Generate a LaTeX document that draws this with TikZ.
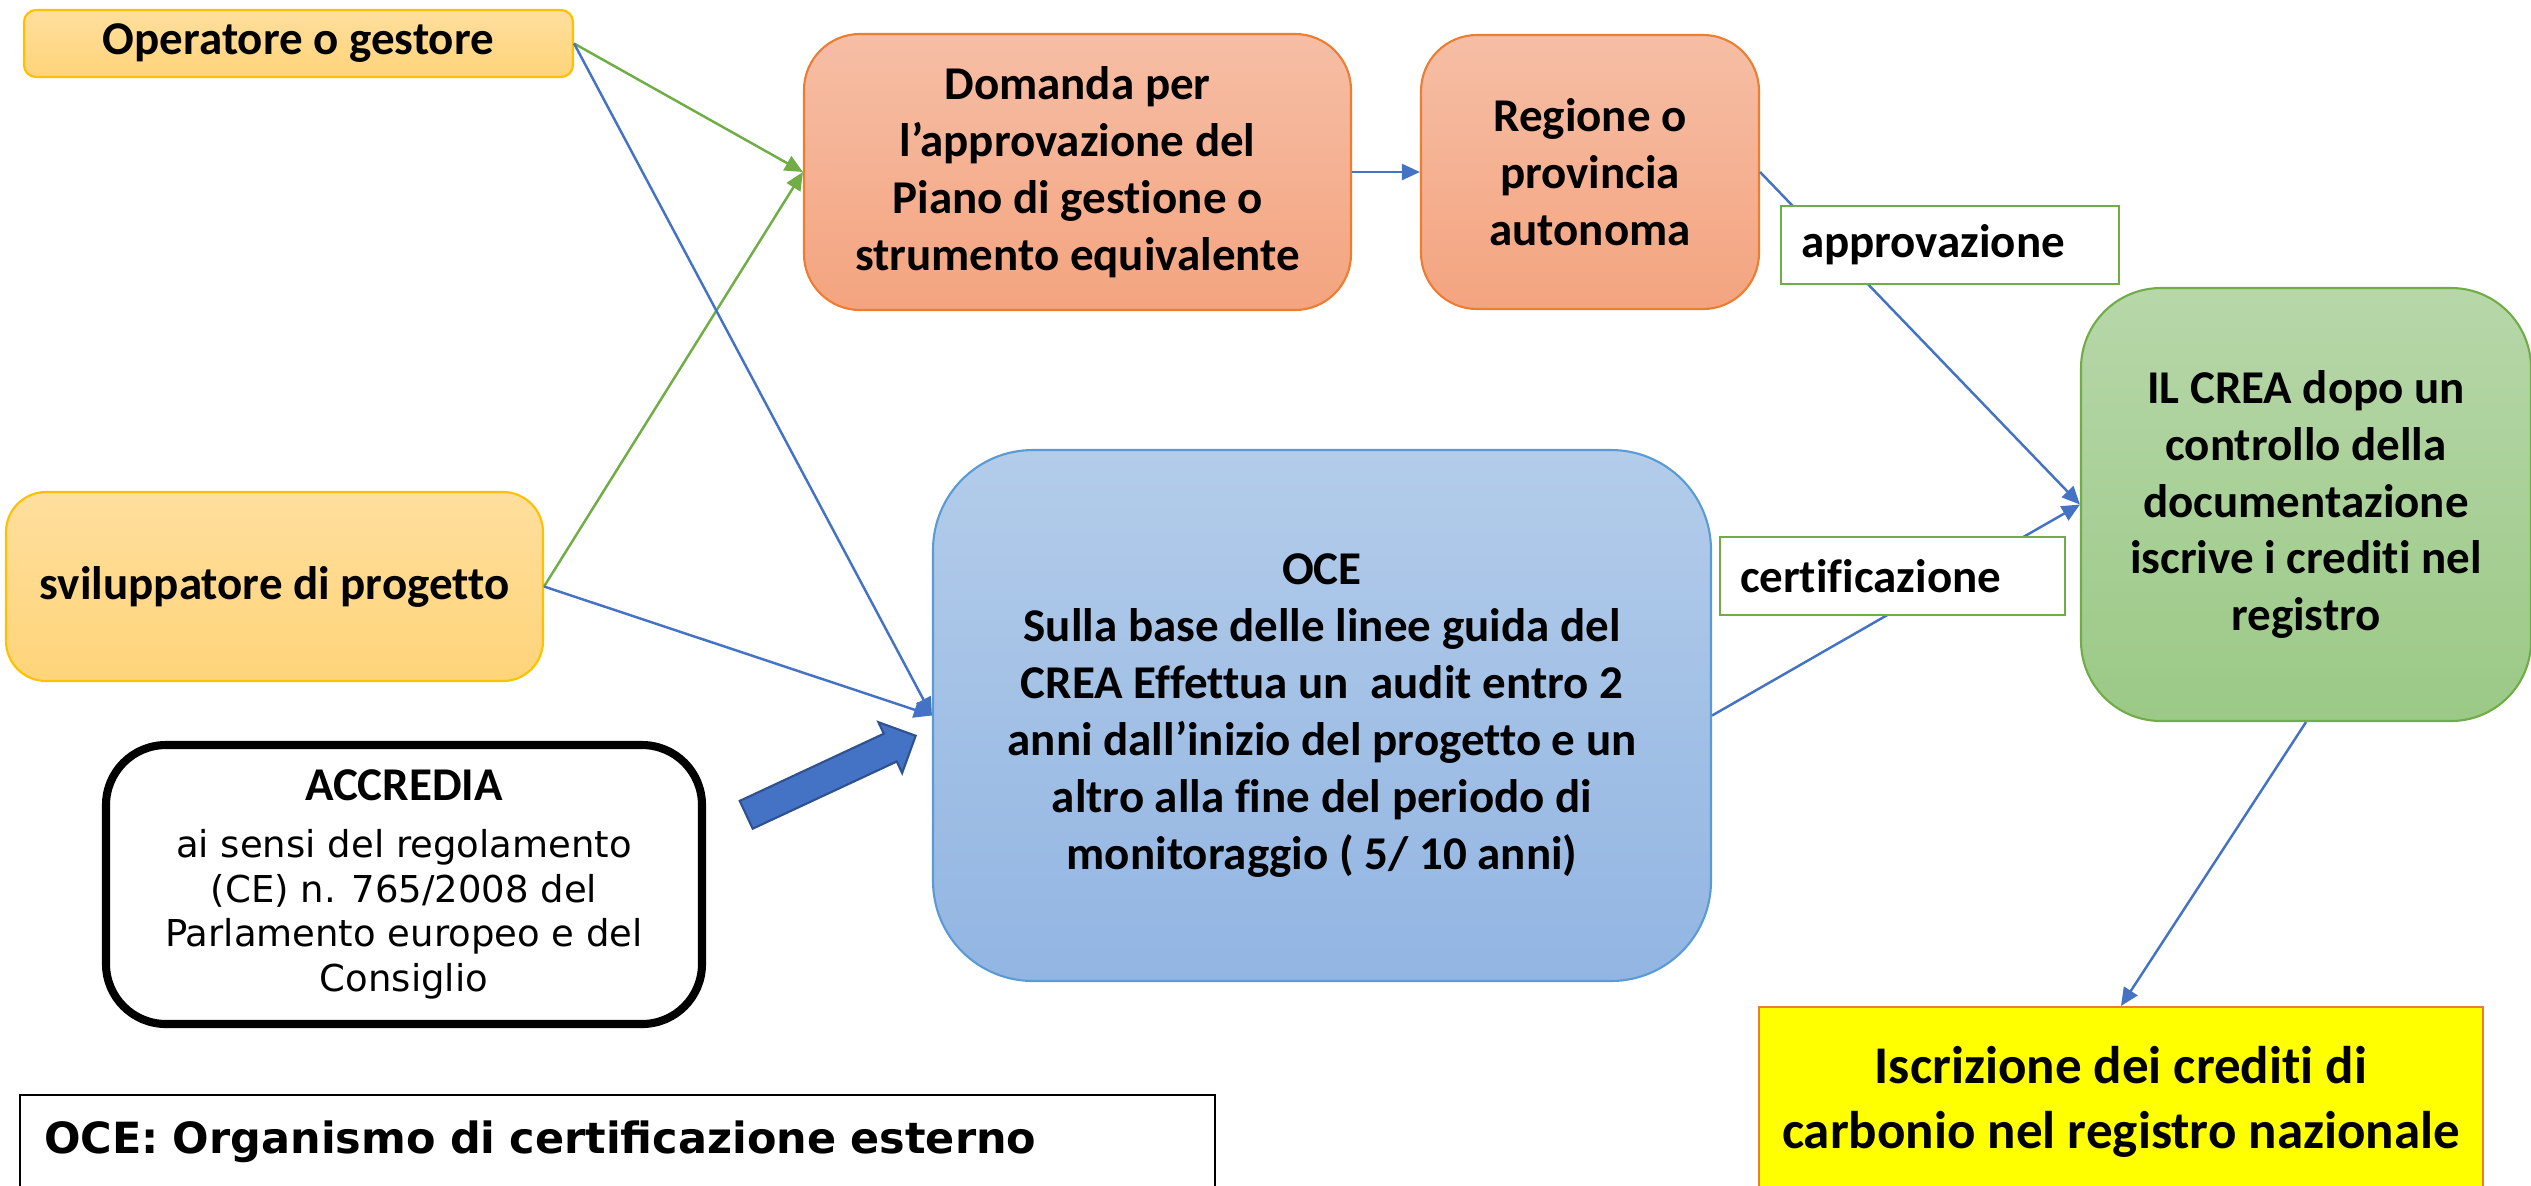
\documentclass[tikz,border=0pt]{standalone}
\usepackage{fontspec}
\setmainfont[Ligatures=NoCommon]{Carlito}
\newfontfamily\dejavu{DejaVu Sans}
\usepackage{tikz}
\usetikzlibrary{arrows.meta, positioning, shapes.arrows}
\tikzset{>={Triangle[width=1.6mm,length=1.8mm]}}

\definecolor{goldline}{HTML}{FFC000}
\definecolor{goldtop}{HTML}{FFDF9E}
\definecolor{goldbot}{HTML}{FFD479}
\definecolor{orline}{HTML}{ED7D31}
\definecolor{ortop}{HTML}{F6BEA5}
\definecolor{orbot}{HTML}{F4A47F}
\definecolor{blline}{HTML}{5B9BD5}
\definecolor{bltop}{HTML}{B3CCEA}
\definecolor{blbot}{HTML}{92B5E2}
\definecolor{grline}{HTML}{70AD47}
\definecolor{grtop}{HTML}{B7D7A9}
\definecolor{grbot}{HTML}{9BC986}
\definecolor{arblue}{HTML}{4472C4}
\definecolor{ardark}{HTML}{2F528F}
\definecolor{yel}{HTML}{FFFF00}

\tikzset{
  box/.style={draw, line width=0.6pt, rounded corners=#1, align=center, inner sep=0pt,
    font=\fontsize{13.37}{16.2}\selectfont\bfseries},
  box/.default=0.5cm,
  gold/.style={box=#1, draw=goldline, top color=goldtop, bottom color=goldbot},
  salmon/.style={box=0.56cm, draw=orline, top color=ortop, bottom color=orbot},
  sky/.style={box=1cm, draw=blline, top color=bltop, bottom color=blbot},
  leaf/.style={box=0.8cm, draw=grline, top color=grtop, bottom color=grbot},
  tag/.style={draw=grline, line width=0.8pt, fill=white, align=left, inner xsep=0.2cm,
    inner ysep=0pt, minimum height=0.78cm, font=\fontsize{13.37}{16.2}\selectfont\bfseries},
}

\begin{document}
\begin{tikzpicture}[on grid]
	\useasboundingbox (0,0) rectangle (25.31,-11.85);
		\node (oper) [gold=0.12cm, minimum width=5.49cm, minimum height=0.67cm] at (2.985,-0.435) {Operatore o gestore};
		\node (svil) [gold=0.4cm, minimum width=5.37cm, minimum height=1.89cm, below left = 5.43cm and 0.24cm of oper] {sviluppatore di progetto};
		\node (dom) [salmon, minimum width=5.47cm, minimum height=2.76cm, below right = 1.285cm and 7.79cm of oper]
			{Domanda per\\ l’approvazione del\\ Piano di gestione o\\ strumento equivalente};
		\node (reg) [salmon, minimum width=3.38cm, minimum height=2.74cm, right = 5.125cm of dom] {Regione o\\ provincia\\ autonoma};
		\node (oce) [sky, minimum width=7.78cm, minimum height=5.31cm, below right = 5.435cm and 2.445cm of dom]
			{OCE\\ Sulla base delle linee guida del\\ CREA Effettua un~ audit entro 2\\ anni dall’inizio del progetto e un\\ altro alla fine del periodo di\\ monitoraggio ( 5/ 10 anni)};
		\node (acc) [box=0.6cm, draw=black, line width=2.3pt, fill=white, minimum width=5.96cm, minimum height=2.79cm,
			font=\dejavu\fontsize{10.53}{12.7}\selectfont, below left = 1.69cm and 9.18cm of oce]
			{{\normalfont\fontsize{13.37}{16.2}\selectfont\bfseries ACCREDIA}\\[0.12cm] ai sensi del regolamento\\ (CE) n. 765/2008 del\\ Parlamento europeo e del\\ Consiglio};
		\node (crea) [leaf, minimum width=4.5cm, minimum height=4.33cm, below right = 3.325cm and 7.16cm of reg]
			{IL CREA dopo un\\ controllo della\\ documentazione\\ iscrive i crediti nel\\ registro};
		\node (iscr) [draw=orline, line width=0.6pt, fill=yel, align=center, inner sep=0pt, minimum width=7.24cm, minimum height=1.9cm,
			font=\fontsize{15.08}{18.5}\selectfont\bfseries, below left = 5.975cm and 1.85cm of crea]
			{Iscrizione dei crediti di\\ carbonio nel registro nazionale};
		\node (leg) [draw=black, line width=0.6pt, align=left, text width=11.47cm, inner xsep=0.24cm, inner ysep=0.25cm,
			text height=0.33cm, text depth=0.3cm, font=\dejavu\fontsize{12.23}{14.5}\selectfont\bfseries,
			below right = 2.67cm and 2.135cm of acc] {OCE: Organismo di certificazione esterno};
		\node (blk) [single arrow, fill=arblue, draw=ardark, line width=0.6pt, rotate=25, minimum height=1.87cm, minimum width=0.54cm,
			inner xsep=0pt, inner ysep=0.143cm, single arrow head extend=0.127cm, above right = 1.06cm and 4.2cm of acc] {};
		\path[->, line width=0.7pt]
			(oper.east) edge [grline] (dom.west)
			(svil.east) edge [grline] (dom.west)
			(oper.east) edge [arblue] (oce.west)
			(svil.east) edge [arblue] (oce.west)
			(dom.east) edge [arblue] (reg.west)
			(reg.east) edge [arblue] (crea.west)
			(oce.east) edge [arblue] (crea.west)
			(crea.south) edge [arblue] (iscr.north);
		\node (appr) [tag, text width=2.98cm, below right = 0.73cm and 3.6cm of reg] {approvazione};
		\node (cert) [tag, text width=3.05cm, above right = 1.395cm and 5.705cm of oce] {certificazione};
	\end{tikzpicture}
\end{document}
